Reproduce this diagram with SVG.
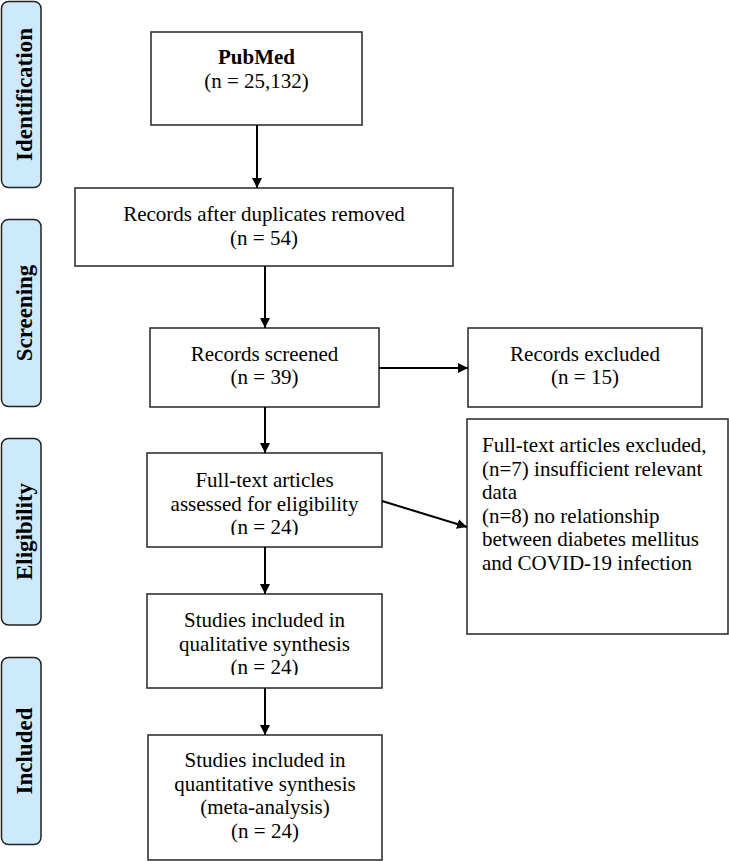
<svg xmlns="http://www.w3.org/2000/svg" width="729" height="861" viewBox="0 0 729 861">
<style>
.bar{fill:#cde9fc;stroke:#222;stroke-width:1.5}
.box{fill:#fff;stroke:#333;stroke-width:1.6}
.t{font-family:'Liberation Serif',serif;font-size:21px;fill:#000}
.c{text-anchor:middle}
.side{font-family:'Liberation Serif',serif;font-size:23px;font-weight:bold;fill:#000;text-anchor:middle}
.ln{stroke:#000;stroke-width:2;fill:none}
</style>
<defs>
<marker id="ah" viewBox="0 0 10 10" refX="10" refY="5" markerWidth="10" markerHeight="10" markerUnits="userSpaceOnUse" orient="auto"><path d="M0,0 L10,5 L0,10 z" fill="#000"/></marker>
<clipPath id="clipFT"><rect x="147" y="453" width="235" height="82"/></clipPath>
<clipPath id="clipQL"><rect x="147" y="594" width="235" height="81"/></clipPath>
</defs>
<rect width="729" height="861" fill="#fff"/>
<g id="side-identification"><rect class="bar" x="1.5" y="1.5" width="39.5" height="186" rx="7"/><text class="side" transform="translate(32,94.5) rotate(-90)">Identification</text></g>
<g id="side-screening"><rect class="bar" x="1.5" y="219.5" width="39.5" height="187" rx="7"/><text class="side" transform="translate(32,313) rotate(-90)">Screening</text></g>
<g id="side-eligibility"><rect class="bar" x="1.5" y="438.5" width="39.5" height="186.5" rx="7"/><text class="side" transform="translate(32,531.5) rotate(-90)">Eligibility</text></g>
<g id="side-included"><rect class="bar" x="1.5" y="657.5" width="39.5" height="187" rx="7"/><text class="side" transform="translate(32,751) rotate(-90)">Included</text></g>

<g id="pubmed"><rect class="box" x="151" y="32" width="211" height="93"/><text class="t c" x="256.5" y="64" font-weight="bold">PubMed</text><text class="t c" x="256.5" y="88">(n = 25,132)</text></g>
<g id="duplicates"><rect class="box" x="75" y="188" width="378" height="78"/><text class="t c" x="264" y="221">Records after duplicates removed</text><text class="t c" x="264" y="245">(n = 54)</text></g>
<g id="screened"><rect class="box" x="150" y="328" width="229" height="79"/><text class="t c" x="264.5" y="361">Records screened</text><text class="t c" x="264.5" y="384">(n = 39)</text></g>
<g id="excluded"><rect class="box" x="468" y="328" width="234" height="79"/><text class="t c" x="585" y="361">Records excluded</text><text class="t c" x="585" y="384">(n = 15)</text></g>
<g id="fulltext"><rect class="box" x="147" y="453" width="235" height="94"/><g clip-path="url(#clipFT)"><text class="t c" x="264.5" y="487">Full-text articles</text><text class="t c" x="264.5" y="510.5">assessed for eligibility</text><text class="t c" x="264.5" y="534">(n = 24)</text></g></g>
<g id="fulltext-excluded"><rect class="box" x="467" y="419" width="261" height="215"/><text class="t" x="482" y="452">Full-text articles excluded,</text><text class="t" x="482" y="475.5">(n=7) insufficient relevant</text><text class="t" x="482" y="499">data</text><text class="t" x="482" y="522.5">(n=8) no relationship</text><text class="t" x="482" y="546">between diabetes mellitus</text><text class="t" x="482" y="569.5">and COVID-19 infection</text></g>
<g id="qualitative"><rect class="box" x="147" y="594" width="235" height="94"/><g clip-path="url(#clipQL)"><text class="t c" x="264.5" y="627">Studies included in</text><text class="t c" x="264.5" y="650.5">qualitative synthesis</text><text class="t c" x="264.5" y="674">(n = 24)</text></g></g>
<g id="quantitative"><rect class="box" x="148" y="735" width="234" height="125"/><text class="t c" x="265" y="767">Studies included in</text><text class="t c" x="265" y="790.5">quantitative synthesis</text><text class="t c" x="265" y="814">(meta-analysis)</text><text class="t c" x="265" y="837.5">(n = 24)</text></g>

<g id="connectors">
<line class="ln" x1="257" y1="125" x2="257" y2="188" marker-end="url(#ah)"/>
<line class="ln" x1="265" y1="266" x2="265" y2="328" marker-end="url(#ah)"/>
<line class="ln" x1="379" y1="368" x2="468" y2="368" marker-end="url(#ah)"/>
<line class="ln" x1="265" y1="407" x2="265" y2="453" marker-end="url(#ah)"/>
<line class="ln" x1="382" y1="501" x2="467" y2="527" marker-end="url(#ah)"/>
<line class="ln" x1="265" y1="547" x2="265" y2="594" marker-end="url(#ah)"/>
<line class="ln" x1="265" y1="688" x2="265" y2="735" marker-end="url(#ah)"/>
</g>
</svg>
